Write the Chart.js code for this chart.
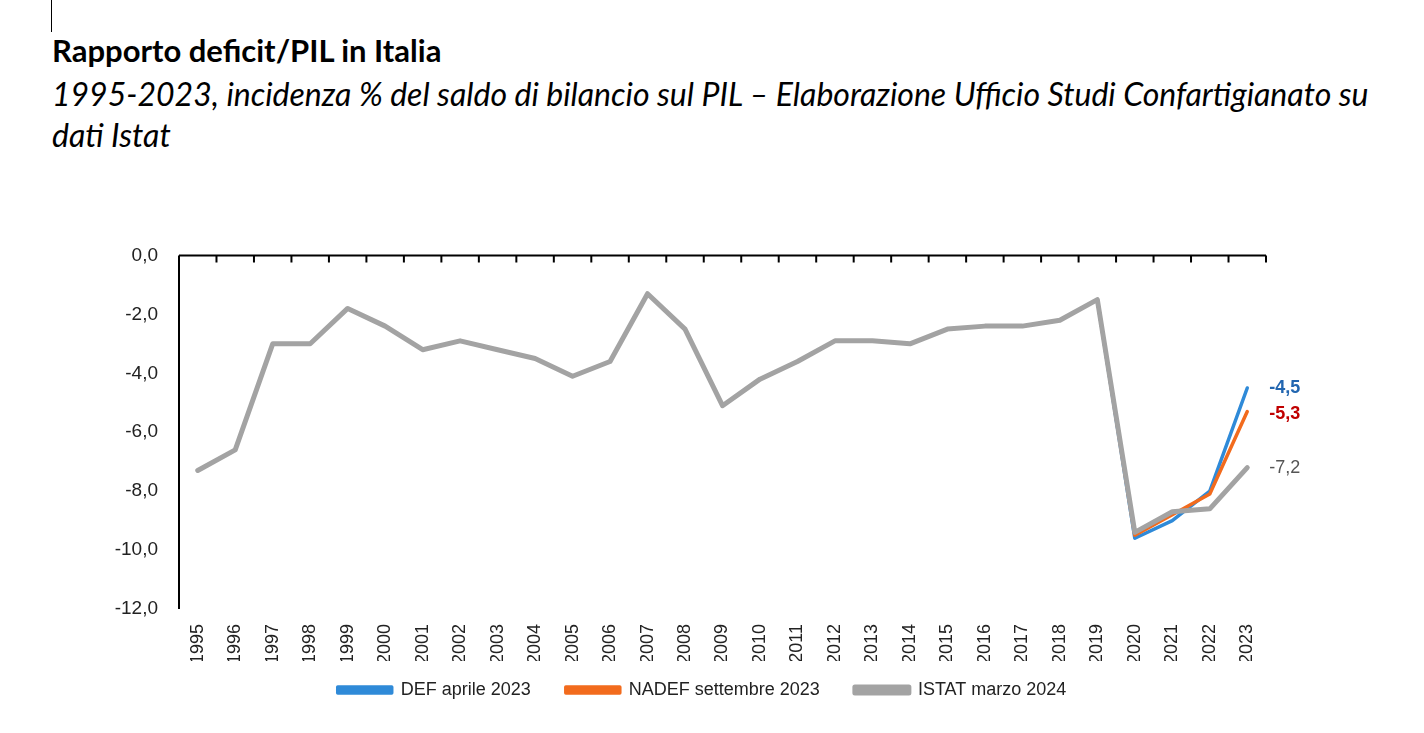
<!DOCTYPE html>
<html>
<head>
<meta charset="utf-8">
<script src="https://cdn.jsdelivr.net/npm/chart.js@4/dist/chart.umd.min.js"></script>
<style>
  body { margin: 0; background: #fff; width: 1424px; height: 733px; overflow: hidden; position: relative; }
  .cursor { position: absolute; left: 51px; top: 0; width: 1px; height: 32px; background: #000; }
  h1 { position: absolute; left: 52px; top: 31px; margin: 0; font: bold 31px Lato, "Open Sans", sans-serif; color: #000; }
  .sub { position: absolute; left: 52px; top: 73px; margin: 0; font: italic 32px Lato, "Open Sans", sans-serif; color: #000; line-height: 41px; }
  .wrap { position: absolute; left: 100px; top: 231px; width: 1230px; height: 489px; }
</style>
</head>
<body>
<div class="cursor"></div>
<h1>Rapporto deficit/PIL in Italia</h1>
<div class="sub">1995-2023, incidenza % del saldo di bilancio sul PIL – Elaborazione Ufficio Studi Confartigianato su<br>dati Istat</div>
<div class="wrap"><canvas id="grafico"></canvas></div>
<script>
const anni = ['1995','1996','1997','1998','1999','2000','2001','2002','2003','2004','2005','2006','2007','2008','2009',
              '2010','2011','2012','2013','2014','2015','2016','2017','2018','2019','2020','2021','2022','2023'];

// ISTAT marzo 2024
const istat = [-7.3, -6.6, -3.0, -3.0, -1.8, -2.4, -3.2, -2.9, -3.2, -3.5, -4.1, -3.6, -1.3, -2.5, -5.1,
               -4.2, -3.6, -2.9, -2.9, -3.0, -2.5, -2.4, -2.4, -2.2, -1.5, -9.4, -8.7, -8.6, -7.2];
// DEF aprile 2023 (dal 2019)
const def = [null, null, null, null, null, null, null, null, null, null, null, null, null, null, null,
             null, null, null, null, null, null, null, null, null, -1.5, -9.6, -9.0, -8.0, -4.5];
// NADEF settembre 2023 (dal 2019)
const nadef = [null, null, null, null, null, null, null, null, null, null, null, null, null, null, null,
               null, null, null, null, null, null, null, null, null, -1.5, -9.5, -8.8, -8.1, -5.3];

const fontChart = '"Liberation Sans Narrow", "Liberation Sans", Arial, sans-serif';
const virgola = v => v.toFixed(1).replace('.', ',');

// linea dell'asse in alto con le tacche verso il basso
const assePlugin = {
    id: 'asseAlto',
    afterLayout(chart) {
        // legenda un po' spostata a destra come nell'originale
        chart.legend.left += 19;
        chart.legend.right += 19;
    },
    afterDraw(chart) {
        const c = chart.ctx, a = chart.chartArea, x = chart.scales.x;
        const passo = x.getPixelForValue(1) - x.getPixelForValue(0);
        c.save();
        c.strokeStyle = '#000';
        c.lineWidth = 2;
        c.beginPath();
        c.moveTo(a.left, a.top);
        c.lineTo(a.right, a.top);
        c.moveTo(a.left, a.top);
        c.lineTo(a.left, a.bottom);
        for (let i = 0; i < anni.length; i++) {
            const px = x.getPixelForValue(i) + passo / 2;
            c.moveTo(px, a.top);
            c.lineTo(px, a.top + 7);
        }
        c.stroke();
        c.restore();
    }
};

// etichette finali 2023
const etichettePlugin = {
    id: 'etichette',
    afterDatasetsDraw(chart) {
        const c = chart.ctx;
        const ultimo = anni.length - 1;
        const voci = [
            { v: def[ultimo], col: '#2266b0', peso: 'bold', dy: 0 },
            { v: nadef[ultimo], col: '#c00000', peso: 'bold', dy: 2 },
            { v: istat[ultimo], col: '#555555', peso: 'normal', dy: 0 }
        ];
        c.save();
        c.textBaseline = 'middle';
        voci.forEach(e => {
            c.font = e.peso + ' 18px ' + fontChart;
            c.fillStyle = e.col;
            const px = chart.scales.x.getPixelForValue(ultimo) + 22;
            const py = chart.scales.y.getPixelForValue(e.v) + e.dy;
            c.fillText(virgola(e.v), px, py);
        });
        c.restore();
    }
};

new Chart(document.getElementById('grafico'), {
    type: 'line',
    data: {
        labels: anni,
        datasets: [
            { label: 'DEF aprile 2023', data: def, borderColor: '#2f8ad8', backgroundColor: '#2f8ad8', borderWidth: 3.5, order: 3 },
            { label: 'NADEF settembre 2023', data: nadef, borderColor: '#f26b1d', backgroundColor: '#f26b1d', borderWidth: 3.5, order: 2 },
            { label: 'ISTAT marzo 2024', data: istat, borderColor: '#a3a3a3', backgroundColor: '#a3a3a3', borderWidth: 5, order: 1 }
        ]
    },
    options: {
        responsive: true,
        maintainAspectRatio: false,
        animation: false,
        elements: { point: { radius: 0 }, line: { tension: 0, borderJoinStyle: 'round', borderCapStyle: 'round' } },
        layout: { padding: { top: 14, right: 64, bottom: 11, left: 0 } },
        scales: {
            x: {
                offset: true,
                grid: { display: false },
                border: { display: false },
                ticks: {
                    autoSkip: false, minRotation: 90, maxRotation: 90, padding: 7,
                    color: '#222', font: { family: fontChart, size: 18 }
                },
                afterFit: s => { s.height = 52; }
            },
            y: {
                min: -12, max: 0,
                grid: { display: false },
                border: { display: false },
                ticks: {
                    stepSize: 2, padding: 13, color: '#222',
                    font: { family: fontChart, size: 19 },
                    callback: v => virgola(v)
                },
                afterFit: s => { s.width = 79; }
            }
        },
        plugins: {
            legend: {
                position: 'bottom',
                labels: {
                    boxWidth: 54, boxHeight: 6, padding: 20, color: '#222',
                    font: { family: fontChart, size: 18 },
                    // spazio extra tra le voci senza aumentare l'altezza della legenda
                    generateLabels: chart => Chart.defaults.plugins.legend.labels.generateLabels(chart)
                        .map(it => it.datasetIndex < 2 ? Object.assign(it, { text: it.text + '   ' }) : it),
                    sort: (a, b) => a.datasetIndex - b.datasetIndex
                }
            },
            tooltip: { enabled: false }
        }
    },
    plugins: [assePlugin, etichettePlugin]
});
</script>
</body>
</html>
